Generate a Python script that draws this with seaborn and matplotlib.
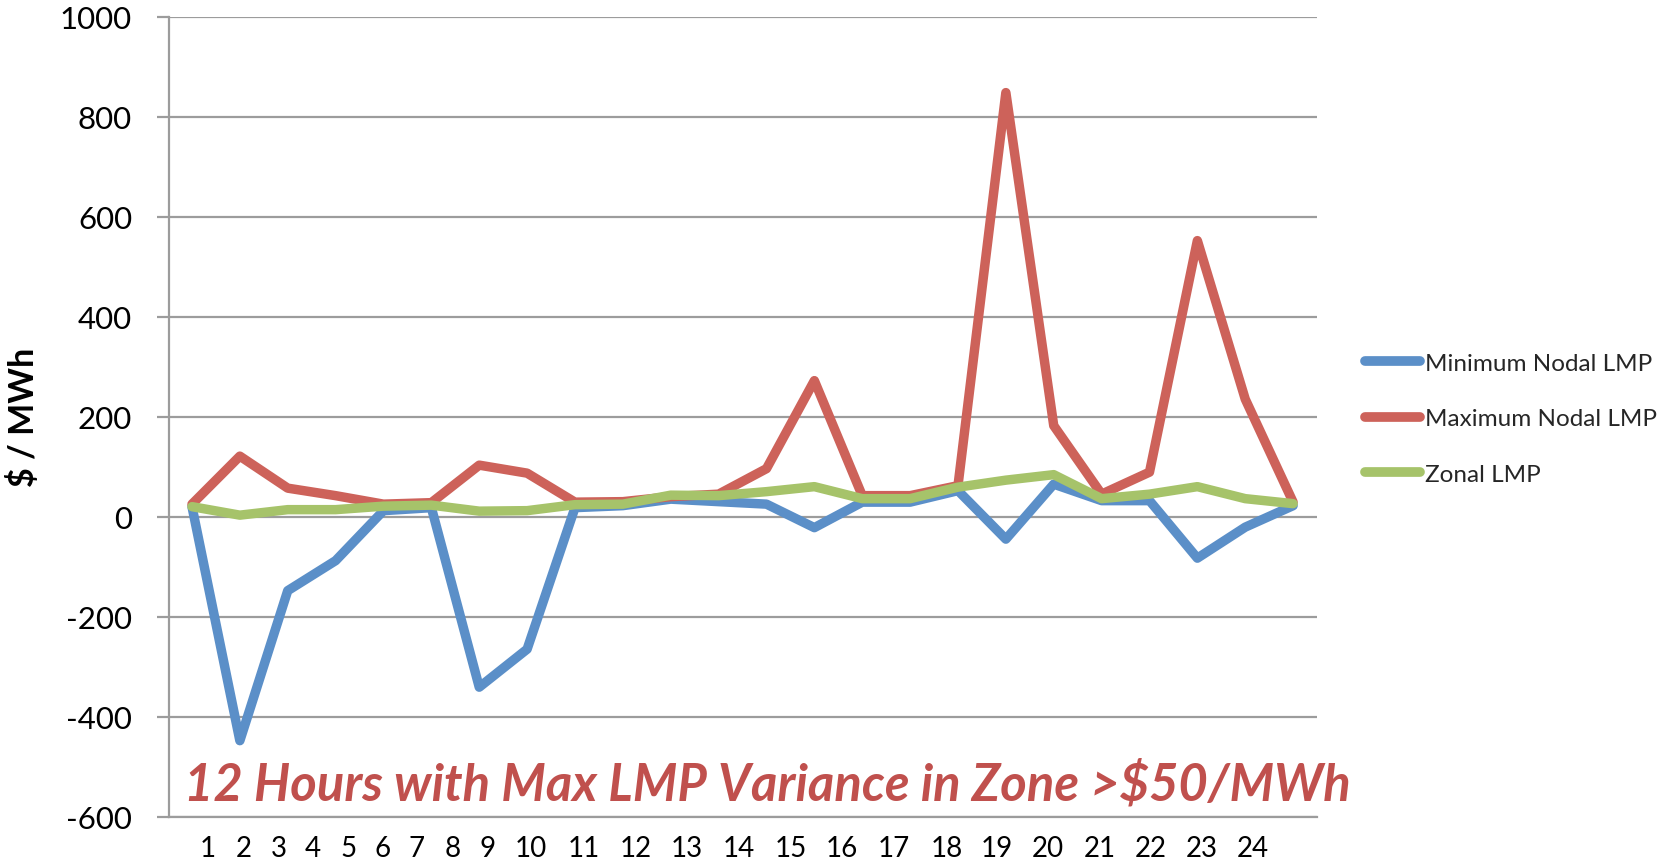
import matplotlib
matplotlib.use("Agg")
import matplotlib.pyplot as plt
import seaborn as sns
import pandas as pd

# Hourly LMP values ($/MWh)
hours = list(range(1, 25))
min_nodal = [20, -448, -148, -88, 12, 18, -341, -265, 18, 22, 35, 30,
             25, -22, 29, 29, 52, -45, 65, 32, 32, -83, -21, 22]
max_nodal = [25, 121, 57, 42, 25, 28, 103, 87, 29, 30, 40, 45,
             96, 272, 42, 42, 62, 848, 182, 45, 89, 552, 235, 29]
zonal = [20, 3, 14, 14, 21, 23, 11, 12, 24, 25, 43, 42,
         50, 60, 36, 36, 59, 73, 84, 36, 45, 60, 36, 26]

series_names = ["Minimum Nodal LMP", "Maximum Nodal LMP", "Zonal LMP"]
hour_labels = [str(h) for h in hours]
y_ticks = [-600, -400, -200, 0, 200, 400, 600, 800, 1000]
note = "12 Hours with Max LMP Variance in Zone >$50/MWh"

df = pd.DataFrame({
    "hour": hours * 3,
    "value": min_nodal + max_nodal + zonal,
    "series": [series_names[0]] * 24 + [series_names[1]] * 24 + [series_names[2]] * 24,
})

sns.set_theme(style="white")
plt.rcParams["font.family"] = ["Lato", "DejaVu Sans"]

fig = plt.figure(figsize=(16.75, 8.62), dpi=100)
ax = fig.add_axes([0.1009, 0.0514, 0.6854, 0.9282])

palette = {series_names[0]: "#5B8FC8",
           series_names[1]: "#CD625A",
           series_names[2]: "#A6C36A"}

sns.lineplot(data=df, x="hour", y="value", hue="series", hue_order=series_names,
             palette=palette, linewidth=6.8, sort=False, estimator=None, ax=ax)

for ln in ax.lines:
    ln.set_solid_joinstyle("round")
    ln.set_solid_capstyle("round")

ax.set_xlim(0.52, 24.5)
ax.set_ylim(-600, 1000)
ax.set_yticks(y_ticks)
ax.set_yticklabels([str(t) for t in y_ticks], fontsize=22.5, color="black")
ax.yaxis.grid(True, color="#9C9C9C", linewidth=1.6)
ax.xaxis.grid(False)
ax.set_axisbelow(True)

# Category labels laid out as a compact run under the axis
label_x = [1.32, 2.09, 2.82, 3.53, 4.26, 4.98, 5.70, 6.45, 7.17, 8.08, 9.19, 10.26,
           11.33, 12.42, 13.50, 14.57, 15.65, 16.77, 17.82, 18.87, 19.96, 21.03, 22.09, 23.15]
ax.set_xticks(label_x)
ax.set_xticklabels(hour_labels, fontsize=20, color="black")
ax.tick_params(axis="x", length=0, pad=13)
ax.tick_params(axis="y", length=8.6, width=1.6, color="#9C9C9C", direction="out",
               pad=18, left=True)

for side in ["top", "right"]:
    ax.spines[side].set_visible(False)
for side in ["left", "bottom"]:
    ax.spines[side].set_color("#9C9C9C")
    ax.spines[side].set_linewidth(1.6)

ax.set_xlabel("")
ax.set_ylabel("$ / MWh", fontsize=24.5, fontweight="bold", color="black", labelpad=14)

ax.text(0.013, 0.022, note, transform=ax.transAxes, ha="left", va="baseline",
        fontsize=36.5, fontweight="bold", fontstyle="italic", color="#C0504D")

handles, labels = ax.get_legend_handles_labels()
leg = ax.legend(handles, labels, loc="center left", bbox_to_anchor=(0.815, 0.513),
                bbox_transform=fig.transFigure, frameon=False, fontsize=17.5,
                handlelength=2.25, handletextpad=0.2, labelspacing=1.42,
                borderpad=0, borderaxespad=0)
for ln in leg.get_lines():
    ln.set_linewidth(7)
    ln.set_solid_capstyle("round")

fig.savefig("out.png", dpi=100)
